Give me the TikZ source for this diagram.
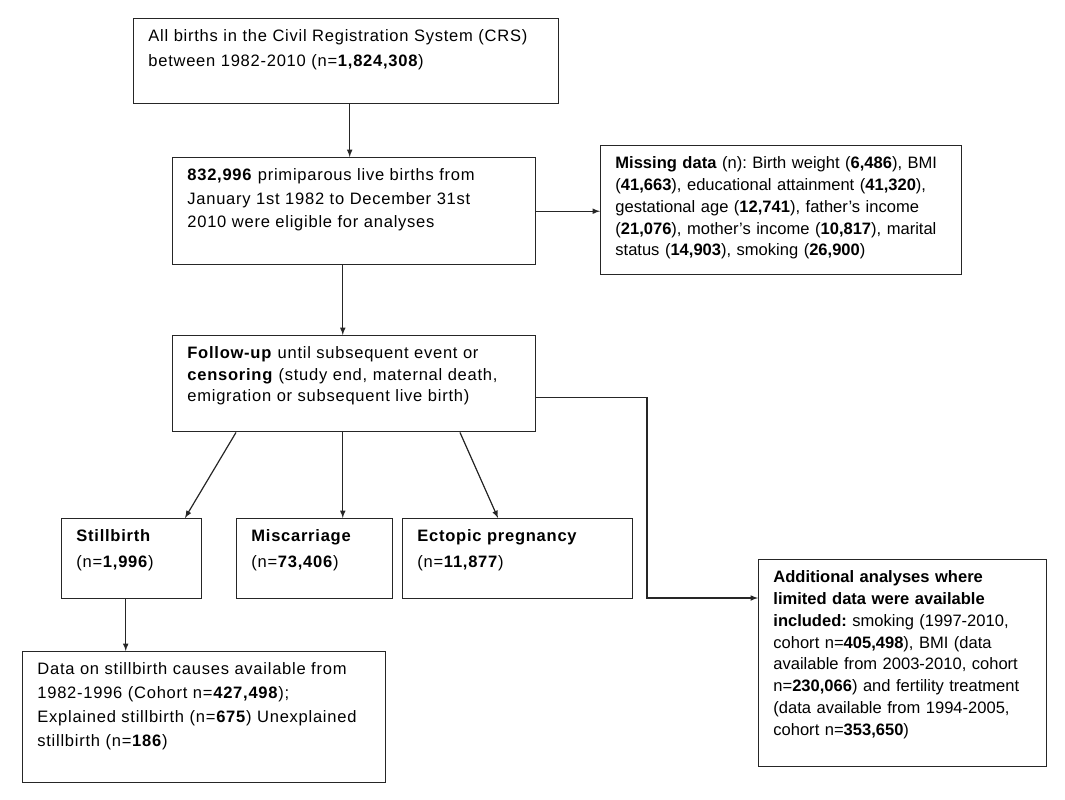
\documentclass[tikz,border=0pt]{standalone}
\usepackage{fontspec}
\setmainfont{Liberation Sans}
\newfontfamily\widefont[LetterSpace=4.5]{Liberation Sans}
\usetikzlibrary{arrows, positioning}
\frenchspacing

\tikzset{
  box/.style={draw=black!85, line width=1.1pt, anchor=north west, align=left,
    inner xsep=11pt, inner ysep=6pt, text height=11.25pt,
    font=\fontsize{12.4}{16.35}\selectfont},
  wide/.style={font=\widefont\fontsize{12.4}{#1}\selectfont},
  wide/.default=17.5pt,
  link/.style={->, line width=0.9pt, draw=black!85}
}

\begin{document}
\begin{tikzpicture}[x=0.75pt, y=-0.75pt, >=latex]
  \useasboundingbox (0,0) rectangle (1065,800);

  \node[box, wide=18.75pt, text width=296.75pt, text depth=40.5pt] (crs) at (133,18)
    {All births in the Civil Registration System (CRS)\\
     between 1982-2010 (n=\textbf{1,824,308})};
  \node[box, wide, text width=250.25pt, text depth=57pt] (elig) at (172,157)
    {\textbf{832,996} primiparous live births from\\
     January 1st 1982 to December 31st\\
     2010 were eligible for analyses};
  \node[box, text width=248.75pt, text depth=73.5pt] (miss) at (600,145)
    {\textbf{Missing data} (n): Birth weight (\textbf{6,486}), BMI\\
     (\textbf{41,663}), educational attainment (\textbf{41,320}),\\
     gestational age (\textbf{12,741}), father's income\\
     (\textbf{21,076}), mother's income (\textbf{10,817}), marital\\
     status (\textbf{14,903}), smoking (\textbf{26,900})};
  \node[box, wide=16pt, text width=250.25pt, text depth=48.75pt] (follow) at (172,335)
    {\textbf{Follow-up} until subsequent event or\\
     \textbf{censoring} (study end, maternal death,\\
     emigration or subsequent live birth)};

  % issues
  \node[box, wide=19.5pt, text width=83pt, text depth=36.75pt] (still) at (61,518)
    {\textbf{Stillbirth}\\ (n=\textbf{1,996})};
  \node[box, wide=19.5pt, text width=95pt, text depth=36.75pt] (misc) at (236,518)
    {\textbf{Miscarriage}\\ (n=\textbf{73,406})};
  \node[box, wide=19.5pt, text width=150.5pt, text depth=36.75pt] (ecto) at (402,518)
    {\textbf{Ectopic pregnancy}\\ (n=\textbf{11,877})};

  \node[box, wide=18pt, text width=250.25pt, text depth=75pt] (causes) at (22,651)
    {Data on stillbirth causes available from\\
     1982-1996 (Cohort n=\textbf{427,498});\\
     Explained stillbirth (n=\textbf{675}) Unexplained\\
     stillbirth (n=\textbf{186})};
  \node[box, text width=194pt, text depth=132pt] (addit) at (758,559)
    {\textbf{Additional analyses where}\\
     \textbf{limited data were available}\\
     \textbf{included:} smoking (1997-2010,\\
     cohort n=\textbf{405,498}), BMI (data\\
     available from 2003-2010, cohort\\
     n=\textbf{230,066}) and fertility treatment\\
     (data available from 1994-2005,\\
     cohort n=\textbf{353,650})};

  \draw[link] ([xshift=2.6pt]crs.south) -- ([xshift=2.6pt]crs.south |- elig.north);
  \draw[link] (elig.east) -- (elig.east -| miss.west);
  \draw[link] ([xshift=-8.6pt]elig.south) -- ([xshift=-8.6pt]elig.south |- follow.north);

  \draw[link] ([xshift=48pt]follow.south west) -- ([xshift=93pt]still.north west);
  \draw[link] ([xshift=-8.6pt]follow.south) -- ([xshift=-8.6pt]follow.south |- misc.north);
  \draw[link] ([xshift=216pt]follow.south west) -- ([xshift=72pt]ecto.north west);

  %partie droite
  \coordinate (turn) at (647,598);
  \draw[link] ([yshift=-10.5pt]follow.east) -| (turn) -- (turn -| addit.west);

  \draw[link] ([xshift=-4.5pt]still.south) -- ([xshift=-4.5pt]still.south |- causes.north);
\end{tikzpicture}
\end{document}
